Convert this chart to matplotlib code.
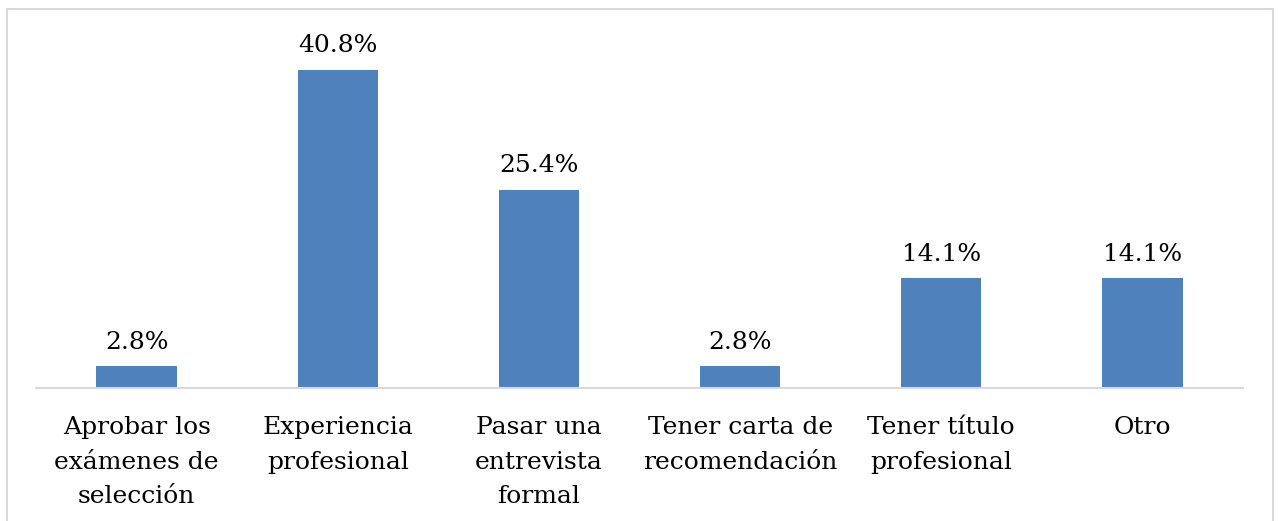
import matplotlib
matplotlib.use("Agg")
import matplotlib.pyplot as plt
from matplotlib.patches import Rectangle

categories = ["Aprobar los\nexámenes de\nselección", "Experiencia\nprofesional",
              "Pasar una\nentrevista\nformal", "Tener carta de\nrecomendación",
              "Tener título\nprofesional", "Otro"]
values = [2.8, 40.8, 25.4, 2.8, 14.1, 14.1]
labels = ["2.8%", "40.8%", "25.4%", "2.8%", "14.1%", "14.1%"]

plt.rcParams['font.family'] = ['DejaVu Serif']
W, H = 1279, 521
fig = plt.figure(figsize=(W/100, H/100), dpi=100)
ax = fig.add_axes([36/W, (H-388)/H, (1243-36)/W, (388-37)/H])

x = list(range(len(categories)))
bars = ax.bar(x, values, width=0.4, color="#4F81BD", zorder=2)
ax.set_xlim(-0.5, len(categories)-0.5)
ax.set_ylim(0, 45)

for xi, v, lab in zip(x, values, labels):
    ax.annotate(lab, (xi, v), xytext=(0, 9), textcoords="offset points",
                ha="center", va="bottom", fontsize=18, color="black")

ax.set_xticks(x)
ax.set_xticklabels(categories, fontsize=18, linespacing=1.62)
ax.tick_params(axis="x", length=0, pad=20.5)
ax.set_yticks([])
for s in ["top", "right", "left"]:
    ax.spines[s].set_visible(False)
ax.spines["bottom"].set_color("#D9D9D9")
ax.spines["bottom"].set_linewidth(1.5)

border = Rectangle((7/W, -0.05), (1273-7)/W, (H-9)/H + 0.05, transform=fig.transFigure,
                   fill=False, edgecolor="#D9D9D9", linewidth=1.5, clip_on=False)
fig.patches.append(border)

fig.savefig("out.png", dpi=100)
